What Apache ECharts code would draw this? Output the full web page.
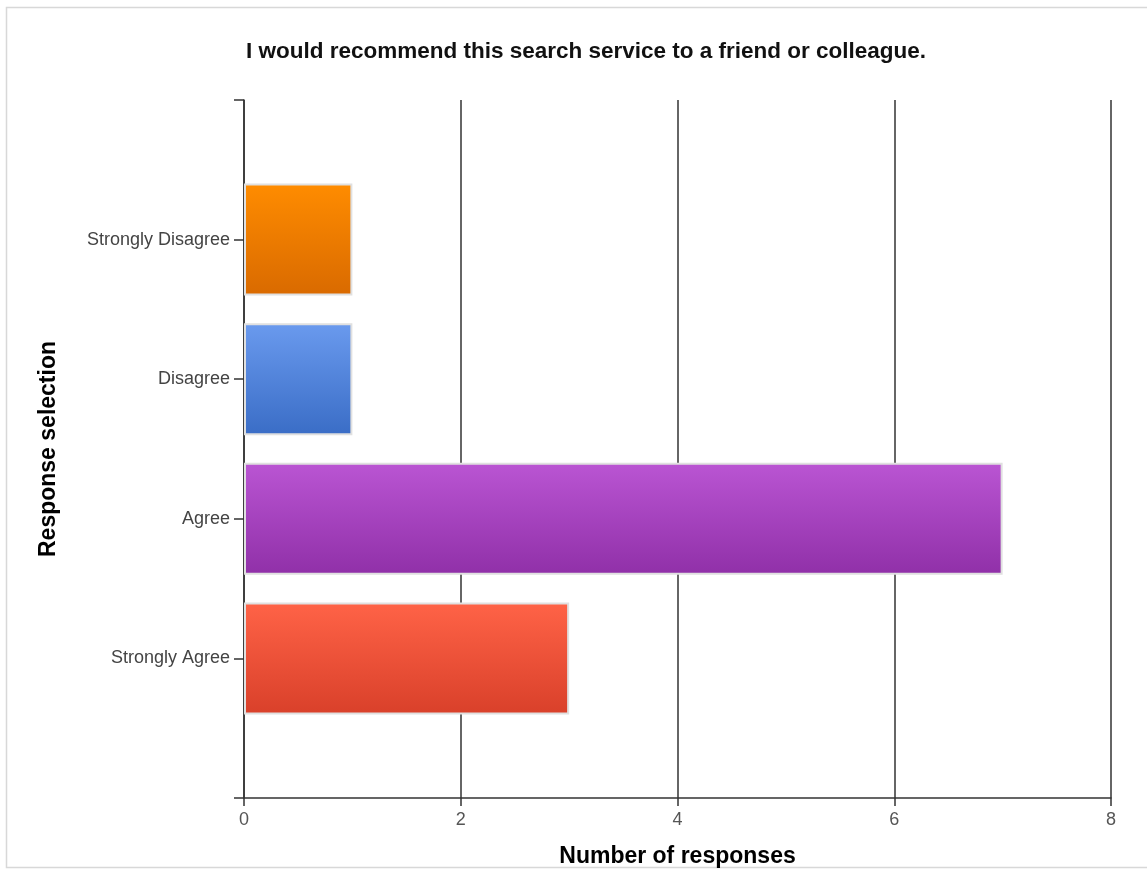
<!DOCTYPE html>
<html><head><meta charset="utf-8">
<script src="https://cdn.jsdelivr.net/npm/echarts@6/dist/echarts.min.js"></script>
<style>html,body{margin:0;padding:0;background:#fff}#c{width:1147px;height:873px}</style>
</head><body><div id="c"></div>
<script>
const categories = ['', 'Strongly Agree', 'Agree', 'Disagree', 'Strongly Disagree', ''];
const values = [null, 3, 7, 1, 1, null];
const xTicks = [0, 2, 4, 6, 8];
const barColors = [null, ['#FF6347', '#D9402A'], ['#BA55D3', '#9030A8'], ['#6A9AEE', '#3A6DC6'], ['#FF8C00', '#D96A00'], null];

const chart = echarts.init(document.getElementById('c'));
const data = values.map((v, i) => v == null ? null : ({
  value: v,
  itemStyle: {
    color: new echarts.graphic.LinearGradient(0, 0, 0, 1, [
      {offset: 0, color: barColors[i][0]}, {offset: 1, color: barColors[i][1]}
    ])
  }
}));
const FONT = 'Liberation Sans, Arial';
chart.setOption({
  backgroundColor: '#fff',
  animation: false,
  graphic: [{
    type: 'rect', shape: {x: 6.5, y: 7.5, width: 1150, height: 860},
    style: {fill: 'none', stroke: '#d8d8d8', lineWidth: 1.5}
  }],
  title: {
    text: 'I would recommend this search service to a friend or colleague.',
    left: 581, top: 35, textAlign: 'center',
    textStyle: {fontFamily: FONT, fontSize: 22.5, fontWeight: 'bold', color: '#111'}
  },
  grid: {left: 244, right: 36, top: 100, bottom: 72, containLabel: false},
  xAxis: {
    type: 'value', min: xTicks[0], max: xTicks[xTicks.length - 1], interval: 2,
    name: 'Number of responses', nameLocation: 'middle', nameGap: 47,
    nameTextStyle: {fontFamily: FONT, fontSize: 23, fontWeight: 'bold', color: '#000'},
    axisLine: {show: true, lineStyle: {color: '#333', width: 1.5}},
    axisTick: {show: true, length: 8, lineStyle: {color: '#333', width: 1.5}},
    axisLabel: {fontFamily: FONT, fontSize: 18, color: '#555', margin: 13},
    splitLine: {show: true, lineStyle: {color: '#333', width: 1.5}}
  },
  yAxis: {
    type: 'category', data: categories, boundaryGap: false,
    name: 'Response selection', nameLocation: 'middle', nameGap: 184, nameRotate: 90,
    nameTextStyle: {fontFamily: FONT, fontSize: 23, fontWeight: 'bold', color: '#000'},
    axisLine: {show: true, lineStyle: {color: '#333', width: 1.5}},
    axisTick: {show: true, length: 10, alignWithLabel: true, interval: 0, lineStyle: {color: '#333', width: 1.5}},
    axisLabel: {fontFamily: FONT, fontSize: 18, color: '#444', margin: 14, interval: 0},
    splitLine: {show: false}
  },
  series: [{
    type: 'bar', data: data, barWidth: 112,
    itemStyle: {borderColor: '#e0e0e0', borderWidth: 2}
  }]
});
</script></body></html>
